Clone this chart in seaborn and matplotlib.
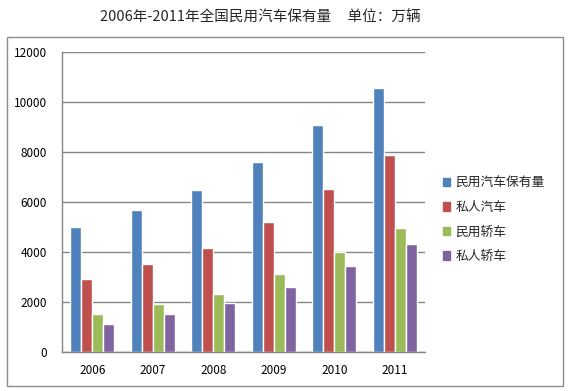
import pandas as pd
import matplotlib
matplotlib.use("Agg")
import matplotlib.pyplot as plt
from matplotlib.patches import Rectangle
import seaborn as sns

# data (万辆)
years = ["2006", "2007", "2008", "2009", "2010", "2011"]
series = ["民用汽车保有量", "私人汽车", "民用轿车", "私人轿车"]
civil_cars = [4985, 5697, 6467, 7619, 9086, 10578]
private_cars = [2925, 3534, 4173, 5218, 6539, 7872]
civil_sedans = [1530, 1930, 2320, 3120, 3990, 4960]
private_sedans = [1140, 1520, 1970, 2600, 3440, 4320]
colors = ["#4F81BD", "#C0504D", "#9BBB59", "#8064A2"]

df = pd.DataFrame({
    "year": years * 4,
    "series": [s for s in series for _ in years],
    "value": civil_cars + private_cars + civil_sedans + private_sedans,
})

sns.set_theme(style="white")
plt.rcParams["font.family"] = ["Noto Sans CJK SC", "DejaVu Sans"]

fig = plt.figure(figsize=(5.69, 3.91), dpi=100)
fig.patch.set_facecolor("white")

# outer chart frame
fig.patches.append(Rectangle((7 / 569, 5 / 391), 556 / 569, 349 / 391,
                             transform=fig.transFigure, fill=False,
                             edgecolor="#8c8c8c", linewidth=1.0))

ax = fig.add_axes([62 / 569, 39 / 391, 363 / 569, 300 / 391])
sns.barplot(data=df, x="year", y="value", hue="series", palette=colors,
            width=4 / 5.5, saturation=1, ax=ax, legend=False)

ax.set_ylim(0, 12000)
ax.set_yticks(range(0, 12001, 2000))
ax.yaxis.grid(True, color="#868686", linewidth=1.0)
ax.set_axisbelow(True)
ax.set_xlabel("")
ax.set_ylabel("")
for side in ["top", "right"]:
    ax.spines[side].set_visible(False)
for side in ["left", "bottom"]:
    ax.spines[side].set_color("#868686")
    ax.spines[side].set_linewidth(1.0)
ax.tick_params(axis="both", length=0, labelsize=8.5, colors="black")
ax.tick_params(axis="y", pad=11)
ax.tick_params(axis="x", pad=9)

handles = [Rectangle((0, 0), 1, 1, color=c) for c in colors]
fig.legend(handles, series, loc="upper left",
           bbox_to_anchor=(431 / 569, (391 - 165) / 391),
           frameon=False, fontsize=9.2, handlelength=0.6, handleheight=0.6,
           handletextpad=0.4, labelspacing=0.9)

fig.text(260 / 569, 1 - 18 / 391, "2006年-2011年全国民用汽车保有量     单位：万辆",
         ha="center", va="center", fontsize=10.5)

fig.savefig("out.png", dpi=100)
